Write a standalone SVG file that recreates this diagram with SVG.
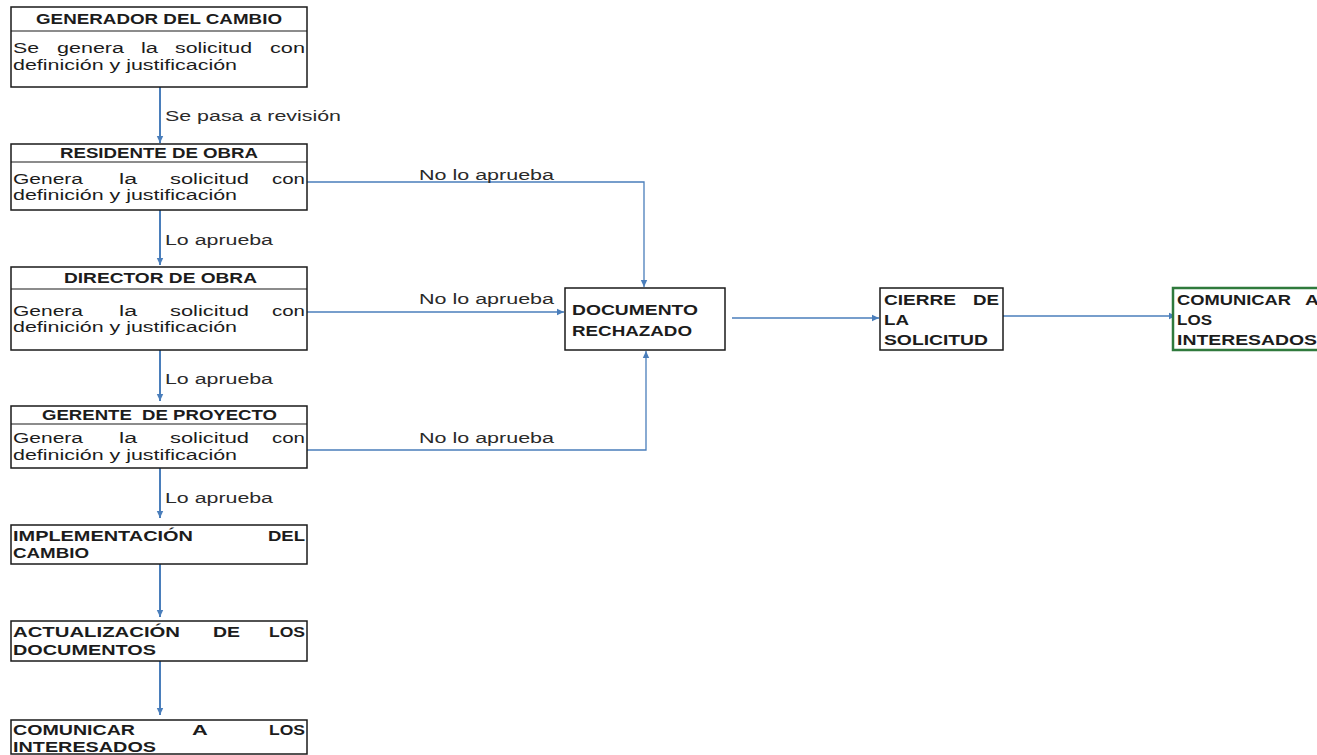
<svg xmlns="http://www.w3.org/2000/svg" width="1317" height="755" viewBox="0 0 1317 755">
  <defs>
    <style>
      .box { fill: #ffffff; stroke: #1a1a1a; stroke-width: 1.5; }
      .box-green { fill: #ffffff; stroke: #2f7a3c; stroke-width: 2.5; }
      .div { stroke: #1a1a1a; stroke-width: 1.2; }
      .t { font-family: "Liberation Sans", Arial, sans-serif; font-size: 15.5px; fill: #1c1c1c; }
      .b { font-family: "Liberation Sans", Arial, sans-serif; font-size: 15.5px; font-weight: bold; fill: #1c1c1c; }
      .lbl { font-family: "Liberation Sans", Arial, sans-serif; font-size: 15.5px; fill: #2a2a2a; }
      .pre { white-space: pre; }
      .flow { fill: none; stroke: #4a7ebb; stroke-width: 2; }
      .link { fill: none; stroke: #4a7ebb; stroke-width: 1.3; }
    </style>
    <marker id="head" markerUnits="userSpaceOnUse" markerWidth="8" markerHeight="8" refX="7" refY="4" orient="auto">
      <path d="M0,0.8 L7,4 L0,7.2 Z" fill="#4a7ebb"/>
    </marker>
  </defs>

  <!-- connectors -->
  <g id="connectors">
    <line class="flow" x1="160" y1="87" x2="160" y2="143" marker-end="url(#head)"/>
    <line class="flow" x1="160" y1="210" x2="160" y2="265" marker-end="url(#head)"/>
    <line class="flow" x1="160" y1="350" x2="160" y2="401" marker-end="url(#head)"/>
    <line class="flow" x1="160" y1="468" x2="160" y2="518" marker-end="url(#head)"/>
    <line class="flow" x1="160" y1="564" x2="160" y2="617" marker-end="url(#head)"/>
    <line class="flow" x1="160" y1="661" x2="160" y2="715" marker-end="url(#head)"/>
    <polyline class="link" points="307,182 644,182 644,287" marker-end="url(#head)"/>
    <line class="link" x1="307" y1="312" x2="564" y2="312" marker-end="url(#head)"/>
    <polyline class="link" points="307,450 646,450 646,351" marker-end="url(#head)"/>
    <line class="link" x1="732" y1="318" x2="879" y2="318" marker-end="url(#head)"/>
    <line class="link" x1="1000" y1="316" x2="1176" y2="316" marker-end="url(#head)"/>

    <text class="lbl" x="165" y="121" textLength="176" lengthAdjust="spacingAndGlyphs">Se pasa a revisión</text>
    <text class="lbl" x="165" y="245" textLength="108" lengthAdjust="spacingAndGlyphs">Lo aprueba</text>
    <text class="lbl" x="165" y="384" textLength="108" lengthAdjust="spacingAndGlyphs">Lo aprueba</text>
    <text class="lbl" x="165" y="503" textLength="108" lengthAdjust="spacingAndGlyphs">Lo aprueba</text>
    <text class="lbl" x="419" y="180" textLength="135" lengthAdjust="spacingAndGlyphs">No lo aprueba</text>
    <text class="lbl" x="419" y="304" textLength="135" lengthAdjust="spacingAndGlyphs">No lo aprueba</text>
    <text class="lbl" x="419" y="443" textLength="135" lengthAdjust="spacingAndGlyphs">No lo aprueba</text>
  </g>

  <!-- generador del cambio -->
  <g id="generador">
    <rect class="box" x="11" y="7" width="296" height="80"/>
    <line class="div" x1="11" y1="31" x2="307" y2="31"/>
    <text class="b" x="36" y="24" textLength="246" lengthAdjust="spacingAndGlyphs">GENERADOR DEL CAMBIO</text>
    <text class="t" y="53">
      <tspan x="13" textLength="26" lengthAdjust="spacingAndGlyphs">Se</tspan>
      <tspan x="57" textLength="67" lengthAdjust="spacingAndGlyphs">genera</tspan>
      <tspan x="141" textLength="17" lengthAdjust="spacingAndGlyphs">la</tspan>
      <tspan x="175" textLength="77" lengthAdjust="spacingAndGlyphs">solicitud</tspan>
      <tspan x="270" textLength="35" lengthAdjust="spacingAndGlyphs">con</tspan>
    </text>
    <text class="t" x="13" y="70" textLength="224" lengthAdjust="spacingAndGlyphs">definición y justificación</text>
  </g>

  <!-- residente de obra -->
  <g id="residente">
    <rect class="box" x="11" y="144" width="296" height="66"/>
    <line class="div" x1="11" y1="162" x2="307" y2="162"/>
    <text class="b" x="60" y="158" textLength="198" lengthAdjust="spacingAndGlyphs">RESIDENTE DE OBRA</text>
    <text class="t" y="184">
      <tspan x="13" textLength="70" lengthAdjust="spacingAndGlyphs">Genera</tspan>
      <tspan x="119" textLength="18" lengthAdjust="spacingAndGlyphs">la</tspan>
      <tspan x="170" textLength="79" lengthAdjust="spacingAndGlyphs">solicitud</tspan>
      <tspan x="272" textLength="33" lengthAdjust="spacingAndGlyphs">con</tspan>
    </text>
    <text class="t" x="13" y="200" textLength="224" lengthAdjust="spacingAndGlyphs">definición y justificación</text>
  </g>

  <!-- director de obra -->
  <g id="director">
    <rect class="box" x="11" y="267" width="296" height="83"/>
    <line class="div" x1="11" y1="289" x2="307" y2="289"/>
    <text class="b" x="64" y="283" textLength="193" lengthAdjust="spacingAndGlyphs">DIRECTOR DE OBRA</text>
    <text class="t" y="316">
      <tspan x="13" textLength="70" lengthAdjust="spacingAndGlyphs">Genera</tspan>
      <tspan x="119" textLength="18" lengthAdjust="spacingAndGlyphs">la</tspan>
      <tspan x="170" textLength="79" lengthAdjust="spacingAndGlyphs">solicitud</tspan>
      <tspan x="272" textLength="33" lengthAdjust="spacingAndGlyphs">con</tspan>
    </text>
    <text class="t" x="13" y="332" textLength="224" lengthAdjust="spacingAndGlyphs">definición y justificación</text>
  </g>

  <!-- gerente de proyecto -->
  <g id="gerente">
    <rect class="box" x="11" y="406" width="296" height="62"/>
    <line class="div" x1="11" y1="424" x2="307" y2="424"/>
    <text class="b pre" x="42" y="420" textLength="235" lengthAdjust="spacingAndGlyphs">GERENTE  DE PROYECTO</text>
    <text class="t" y="443">
      <tspan x="13" textLength="70" lengthAdjust="spacingAndGlyphs">Genera</tspan>
      <tspan x="119" textLength="18" lengthAdjust="spacingAndGlyphs">la</tspan>
      <tspan x="170" textLength="79" lengthAdjust="spacingAndGlyphs">solicitud</tspan>
      <tspan x="272" textLength="33" lengthAdjust="spacingAndGlyphs">con</tspan>
    </text>
    <text class="t" x="13" y="460" textLength="224" lengthAdjust="spacingAndGlyphs">definición y justificación</text>
  </g>

  <!-- implementación del cambio -->
  <g id="implementacion">
    <rect class="box" x="11" y="525" width="296" height="39"/>
    <text class="b" y="541">
      <tspan x="13" textLength="180" lengthAdjust="spacingAndGlyphs">IMPLEMENTACIÓN</tspan>
      <tspan x="268" textLength="37" lengthAdjust="spacingAndGlyphs">DEL</tspan>
    </text>
    <text class="b" x="13" y="558" textLength="76" lengthAdjust="spacingAndGlyphs">CAMBIO</text>
  </g>

  <!-- actualización de los documentos -->
  <g id="actualizacion">
    <rect class="box" x="11" y="621" width="296" height="40"/>
    <text class="b" y="637">
      <tspan x="13" textLength="167" lengthAdjust="spacingAndGlyphs">ACTUALIZACIÓN</tspan>
      <tspan x="213" textLength="27" lengthAdjust="spacingAndGlyphs">DE</tspan>
      <tspan x="269" textLength="36" lengthAdjust="spacingAndGlyphs">LOS</tspan>
    </text>
    <text class="b" x="13" y="655" textLength="143" lengthAdjust="spacingAndGlyphs">DOCUMENTOS</text>
  </g>

  <!-- comunicar a los interesados -->
  <g id="comunicar">
    <rect class="box" x="11" y="720" width="296" height="34"/>
    <text class="b" y="735">
      <tspan x="13" textLength="122" lengthAdjust="spacingAndGlyphs">COMUNICAR</tspan>
      <tspan x="192" textLength="15" lengthAdjust="spacingAndGlyphs">A</tspan>
      <tspan x="269" textLength="36" lengthAdjust="spacingAndGlyphs">LOS</tspan>
    </text>
    <text class="b" x="13" y="752" textLength="143" lengthAdjust="spacingAndGlyphs">INTERESADOS</text>
  </g>

  <!-- documento rechazado -->
  <g id="rechazado">
    <rect class="box" x="565" y="288" width="160" height="62"/>
    <text class="b" x="572" y="315" textLength="126" lengthAdjust="spacingAndGlyphs">DOCUMENTO</text>
    <text class="b" x="572" y="336" textLength="120" lengthAdjust="spacingAndGlyphs">RECHAZADO</text>
  </g>

  <!-- cierre de la solicitud -->
  <g id="cierre">
    <rect class="box" x="880" y="288" width="123" height="62"/>
    <text class="b" y="305">
      <tspan x="884" textLength="72" lengthAdjust="spacingAndGlyphs">CIERRE</tspan>
      <tspan x="973" textLength="26" lengthAdjust="spacingAndGlyphs">DE</tspan>
    </text>
    <text class="b" x="884" y="325" textLength="25" lengthAdjust="spacingAndGlyphs">LA</text>
    <text class="b" x="884" y="345" textLength="104" lengthAdjust="spacingAndGlyphs">SOLICITUD</text>
  </g>

  <!-- comunicar a los interesados (right) -->
  <g id="comunicar-final">
    <rect class="box-green" x="1173" y="288" width="160" height="62"/>
    <text class="b" y="305">
      <tspan x="1177" textLength="114" lengthAdjust="spacingAndGlyphs">COMUNICAR</tspan>
      <tspan x="1305" textLength="14" lengthAdjust="spacingAndGlyphs">A</tspan>
    </text>
    <text class="b" x="1177" y="325" textLength="35" lengthAdjust="spacingAndGlyphs">LOS</text>
    <text class="b" x="1177" y="345" textLength="140" lengthAdjust="spacingAndGlyphs">INTERESADOS</text>
  </g>
</svg>
